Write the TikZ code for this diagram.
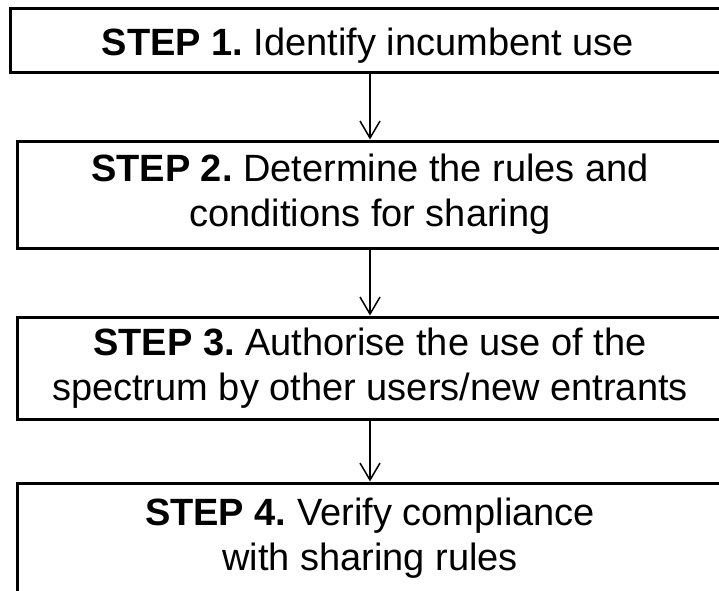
\documentclass[tikz,border=0pt]{standalone}
\usepackage{fontspec}
\setmainfont{Liberation Sans}
\usetikzlibrary{arrows.meta}
\frenchspacing

\tikzset{
  stepbox/.style={draw=black, line width=3pt, fill=white, inner sep=0pt,
    align=center, font=\fontsize{38}{45}\selectfont},
  steptext/.style={inner sep=0pt, align=center, font=\fontsize{38}{45}\selectfont},
  flow/.style={draw=black, line width=1.5pt,
    -{Straight Barb[length=17pt, width=20pt, line width=1.5pt]}}
}

\begin{document}
\begin{tikzpicture}[x=1pt, y=-1pt]
  \useasboundingbox (0,0) rectangle (719,590);
  \clip (0,0) rectangle (719,590);

  \node[stepbox, minimum width=720pt, minimum height=64pt] (s1) at (370,40) {};
  \node[steptext, anchor=base] (t1) at (368,55)
    {\textbf{STEP 1.} Identify incumbent use};
  \node[stepbox, minimum width=706pt, minimum height=107pt] (s2) at (370,194.5)
    {\textbf{STEP 2.} Determine the rules and\\conditions for sharing};
  \node[stepbox, minimum width=706pt, minimum height=102pt] (s3) at (370,368)
    {\textbf{STEP 3.} Authorise the use of the\\spectrum by other users/new entrants};
  \node[stepbox, minimum width=706pt, minimum height=110pt] (s4) at (370,538)
    {\textbf{STEP 4.} Verify compliance\\with sharing rules};

  \draw[flow] (s1) -- (s2);
  \draw[flow] (s2) -- (s3);
  \draw[flow] (s3) -- (s4);
\end{tikzpicture}
\end{document}
